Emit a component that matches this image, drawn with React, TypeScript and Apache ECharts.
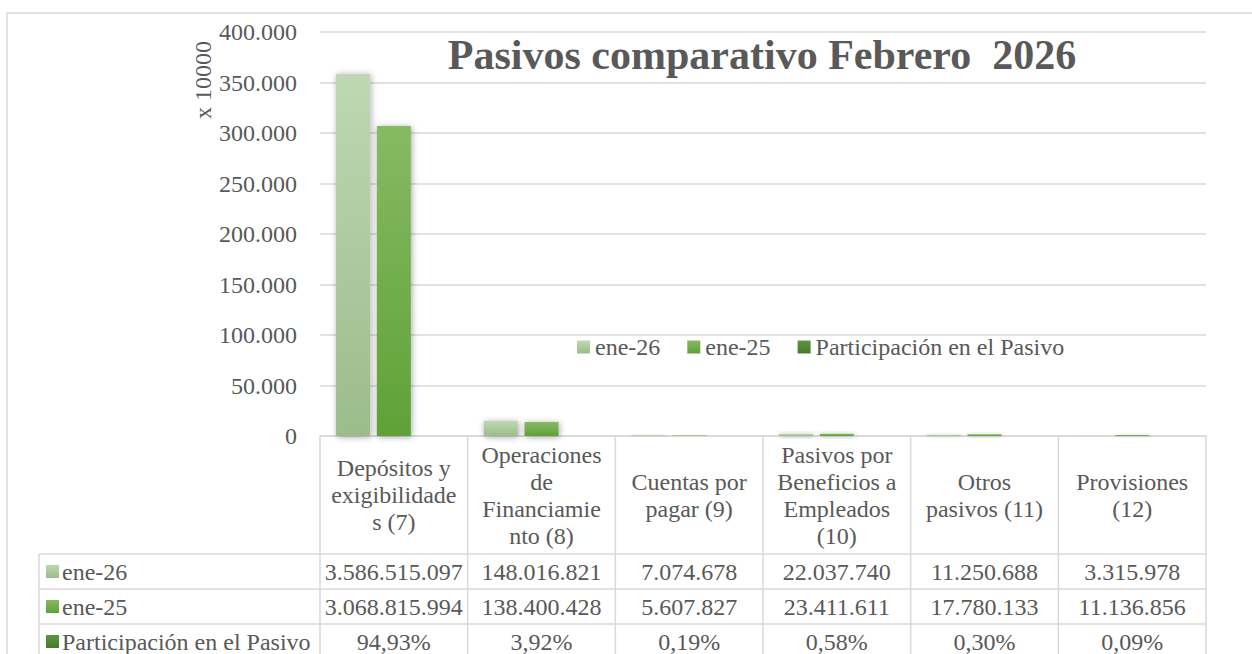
import React, { useEffect, useRef } from "react";
import * as echarts from "echarts";

// ---- data ----
const categories = [
  "Depósitos y\nexigibilidade\ns (7)",
  "Operaciones\nde\nFinanciamie\nnto (8)",
  "Cuentas por\npagar (9)",
  "Pasivos por\nBeneficios a\nEmpleados\n(10)",
  "Otros\npasivos (11)",
  "Provisiones\n(12)",
];
const ene26 = [3586515097, 148016821, 7074678, 22037740, 11250688, 3315978];
const ene25 = [3068815994, 138400428, 5607827, 23411611, 17780133, 11136856];
const participacion = [94.93, 3.92, 0.19, 0.58, 0.3, 0.09];
const seriesNames = ["ene-26", "ene-25", "Participación en el Pasivo"];
const displayUnit = 10000;
const unitLabel = "x 10000";
const yMin = 0;
const yMax = 400000;
const yInterval = 50000;
const chartTitle = "Pasivos comparativo Febrero  2026";

// ---- style ----
const FONT = "Liberation Serif";
const TXT = "#595959";
const LINE = "#d9d9d9";
const GL = 320;
const GR = 1206;
const GT = 32;
const GB = 436;
const HEADER_BOTTOM = 554;
const ROW_H = 35;
const TABLE_LEFT = 39;

const grad = (a: string, b: string) =>
  new echarts.graphic.LinearGradient(0, 0, 0, 1, [
    { offset: 0, color: a },
    { offset: 1, color: b },
  ]);

const colors = [
  ["#BED8B3", "#9BBC8B"],
  ["#86BA63", "#5FA137"],
  ["#5F9541", "#467A2A"],
];

const fmtInt = (n: number) =>
  Math.round(n)
    .toString()
    .replace(/\B(?=(\d{3})+(?!\d))/g, ".");
const fmtPct = (p: number) => p.toFixed(2).replace(".", ",") + "%";

export default function App() {
  const ref = useRef<HTMLDivElement>(null);
  useEffect(() => {
    if (!ref.current) return;
    const chart = echarts.init(ref.current, undefined, { renderer: "svg" });
    const colW = (GR - GL) / categories.length;

    const txt = (text: string, x: number, y: number, size: number, align: string, extra: any = {}) => ({
      type: "text",
      x,
      y,
      silent: true,
      ...extra,
      style: {
        text,
        fontFamily: FONT,
        fontSize: size,
        fontWeight: extra.bold ? "bold" : "normal",
        fill: TXT,
        align,
        verticalAlign: "middle",
      },
    });

    const graphics: any[] = [];
    // outer frame
    graphics.push({ type: "line", shape: { x1: 7, y1: 13, x2: 1252, y2: 13 }, style: { stroke: LINE, lineWidth: 1.5 }, silent: true });
    graphics.push({ type: "line", shape: { x1: 7, y1: 13, x2: 7, y2: 660 }, style: { stroke: LINE, lineWidth: 1.5 }, silent: true });
    // table vertical lines
    for (let i = 0; i <= categories.length; i++) {
      const x = GL + i * colW;
      graphics.push({ type: "line", shape: { x1: x, y1: GB, x2: x, y2: 660 }, style: { stroke: LINE, lineWidth: 1.5 }, silent: true });
    }
    graphics.push({ type: "line", shape: { x1: TABLE_LEFT, y1: HEADER_BOTTOM, x2: TABLE_LEFT, y2: 660 }, style: { stroke: LINE, lineWidth: 1.5 }, silent: true });
    for (let r = 0; r < 3; r++) {
      const y = HEADER_BOTTOM + r * ROW_H;
      graphics.push({ type: "line", shape: { x1: TABLE_LEFT, y1: y, x2: GR, y2: y }, style: { stroke: LINE, lineWidth: 1.5 }, silent: true });
    }
    const rows = [ene26.map(fmtInt), ene25.map(fmtInt), participacion.map(fmtPct)];
    rows.forEach((vals, r) => {
      const cy = HEADER_BOTTOM + r * ROW_H + ROW_H / 2;
      graphics.push({
        type: "rect",
        shape: { x: 46, y: cy - 6.5, width: 13, height: 13 },
        style: { fill: grad(colors[r][0], colors[r][1]) },
        silent: true,
      });
      graphics.push(txt(seriesNames[r], 62, cy, 24, "left"));
      vals.forEach((v, i) => {
        graphics.push(txt(v, GL + (i + 0.5) * colW, cy, 24, "center"));
      });
    });
    // title
    graphics.push(txt(chartTitle, 762, 55, 42, "center", { bold: true, z: 10 }));
    // unit label
    graphics.push(txt(unitLabel, 203, 80, 24, "center", { rotation: Math.PI / 2 }));

    const shadow = {
      shadowBlur: 6,
      shadowColor: "rgba(0,0,0,0.35)",
      shadowOffsetX: 1,
      shadowOffsetY: 1,
    };

    const dataSets = [
      ene26.map((v) => v / displayUnit),
      ene25.map((v) => v / displayUnit),
      participacion.map((p) => p / 100 / displayUnit),
    ];

    chart.setOption({
      animation: false,
      backgroundColor: "#ffffff",
      textStyle: { fontFamily: FONT },
      grid: { left: GL, right: 1252 - GR, top: GT, bottom: 654 - GB, containLabel: false },
      legend: {
        data: seriesNames,
        left: 572,
        top: 330,
        icon: "rect",
        itemWidth: 13,
        itemHeight: 13,
        itemGap: 27,
        textStyle: { fontSize: 24, color: TXT, fontFamily: FONT },
        selectedMode: false,
      },
      xAxis: {
        type: "category",
        data: categories,
        axisLine: { show: true, lineStyle: { color: LINE, width: 1.5 } },
        axisTick: { show: false },
        axisLabel: {
          interval: 0,
          fontSize: 24,
          lineHeight: 27,
          color: TXT,
          fontFamily: FONT,
          align: "center",
          verticalAlign: "middle",
          margin: 59,
        },
      },
      yAxis: {
        type: "value",
        min: yMin,
        max: yMax,
        interval: yInterval,
        axisLine: { show: false },
        axisTick: { show: false },
        splitLine: { lineStyle: { color: LINE, width: 1.5 } },
        axisLabel: {
          fontSize: 24,
          color: TXT,
          fontFamily: FONT,
          margin: 23,
          formatter: (v: number) => fmtInt(v),
        },
      },
      series: seriesNames.map((name, k) => ({
        name,
        type: "bar",
        data: dataSets[k],
        barWidth: 34,
        barGap: "20%",
        itemStyle: { color: grad(colors[k][0], colors[k][1]), ...shadow },
      })),
      graphic: graphics,
    });
    return () => chart.dispose();
  }, []);
  return (
    <div
      ref={ref}
      style={{ position: "fixed", left: 0, top: 0, width: 1252, height: 654, background: "#fff" }}
    />
  );
}
